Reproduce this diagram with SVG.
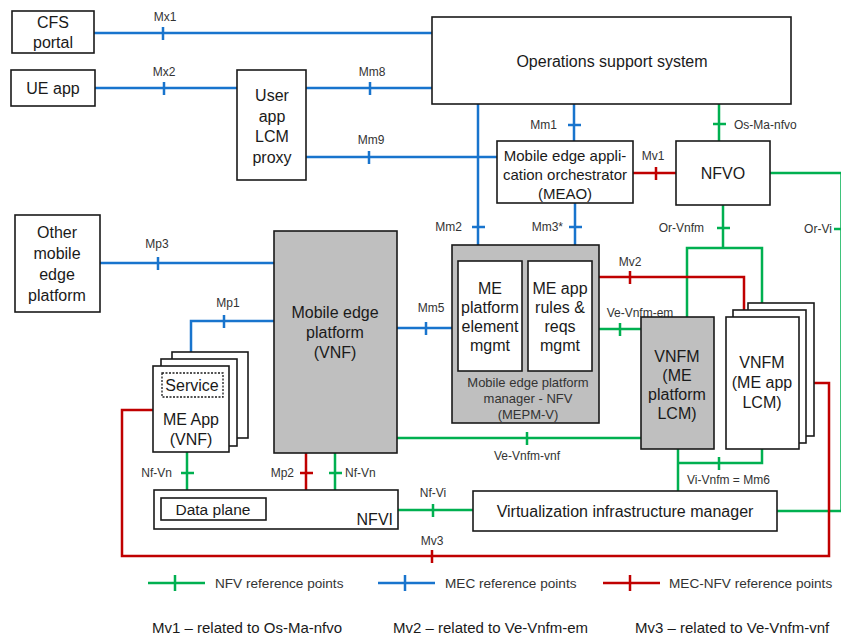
<svg xmlns="http://www.w3.org/2000/svg" width="841" height="637" viewBox="0 0 841 637">
<style>
.box{fill:#fff;stroke:#1a1a1a;stroke-width:1.6}
.gbox{fill:#bfbfbf;stroke:#1a1a1a;stroke-width:1.6}
.t{font-family:"Liberation Sans",Arial,sans-serif;font-size:16px;fill:#1a1a1a;text-anchor:middle}
.l{font-family:"Liberation Sans",Arial,sans-serif;font-size:12px;fill:#333}
.lg{font-family:"Liberation Sans",Arial,sans-serif;font-size:13.6px;fill:#333}
.ft{font-family:"Liberation Sans",Arial,sans-serif;font-size:15px;fill:#1a1a1a}
.b{fill:none;stroke:#1874cd;stroke-width:2.5}
.g{fill:none;stroke:#00b050;stroke-width:2.5}
.r{fill:none;stroke:#c00000;stroke-width:2.5}
</style>
<rect width="841" height="637" fill="#fff"/>
<g id="connectors">
  <!-- blue MEC -->
  <path class="b" d="M94 33H432 M163 27V40"/>
  <path class="b" d="M95 88H237 M164 82V95"/>
  <path class="b" d="M306 88H432 M370 82V95"/>
  <path class="b" d="M306 157H497 M369 151V164"/>
  <path class="b" d="M478 104V245 M472 227H485"/>
  <path class="b" d="M574 104V141 M568 125H581"/>
  <path class="b" d="M575 203V245 M569 227H582"/>
  <path class="b" d="M100 263H274 M158 257V270"/>
  <path class="b" d="M191 366V321H274 M224 315V328"/>
  <path class="b" d="M397 328H452 M426 322V335"/>
  <!-- green NFV -->
  <path class="g" d="M719 104V141 M713 124H726"/>
  <path class="g" d="M770 173H841.5V511 M834 229H841"/>
  <path class="g" d="M723 205V248 M717 228H730"/>
  <path class="g" d="M687 317V248H762V303"/>
  <path class="g" d="M599 329H641 M620 323V336"/>
  <path class="g" d="M397 438H641 M527 432V445"/>
  <path class="g" d="M678 449V491 M678 463H762V449 M719 457V470"/>
  <path class="g" d="M187 452V490 M181 473H194"/>
  <path class="g" d="M335 453V490 M329 473H342"/>
  <path class="g" d="M398 510H473 M433 504V517"/>
  <path class="g" d="M777 511H841"/>
  <!-- red MEC-NFV -->
  <path class="r" d="M633 173H676 M656 167V180"/>
  <path class="r" d="M599 277H744V310 M630 271V284"/>
  <path class="r" d="M306 453V509H266 M300 473H313"/>
  <path class="r" d="M799 383H829V556H122V410H153 M432 550V563"/>
</g>
<g id="labels">
  <text class="l" x="165" y="21" text-anchor="middle">Mx1</text>
  <text class="l" x="164" y="76" text-anchor="middle">Mx2</text>
  <text class="l" x="372" y="76" text-anchor="middle">Mm8</text>
  <text class="l" x="371" y="144" text-anchor="middle">Mm9</text>
  <text class="l" x="557" y="129" text-anchor="end">Mm1</text>
  <text class="l" x="653" y="160" text-anchor="middle">Mv1</text>
  <text class="l" x="734" y="129">Os-Ma-nfvo</text>
  <text class="l" x="462" y="231" text-anchor="end">Mm2</text>
  <text class="l" x="563" y="231" text-anchor="end">Mm3*</text>
  <text class="l" x="704" y="232" text-anchor="end">Or-Vnfm</text>
  <text class="l" x="818" y="233" text-anchor="middle">Or-Vi</text>
  <text class="l" x="157" y="248" text-anchor="middle">Mp3</text>
  <text class="l" x="228" y="307" text-anchor="middle">Mp1</text>
  <text class="l" x="630" y="266" text-anchor="middle">Mv2</text>
  <text class="l" x="640" y="317" text-anchor="middle">Ve-Vnfm-em</text>
  <text class="l" x="431" y="312" text-anchor="middle">Mm5</text>
  <text class="l" x="527" y="460" text-anchor="middle">Ve-Vnfm-vnf</text>
  <text class="l" x="172" y="477" text-anchor="end">Nf-Vn</text>
  <text class="l" x="294" y="477" text-anchor="end">Mp2</text>
  <text class="l" x="345" y="477">Nf-Vn</text>
  <text class="l" x="687" y="484">Vi-Vnfm = Mm6</text>
  <text class="l" x="433" y="497" text-anchor="middle">Nf-Vi</text>
  <text class="l" x="432" y="545" text-anchor="middle">Mv3</text>
</g>
<g id="cfs-portal">
  <rect class="box" x="12" y="11" width="82" height="42"/>
  <text class="t" x="53" y="28">CFS</text>
  <text class="t" x="53" y="48">portal</text>
</g>
<g id="ue-app">
  <rect class="box" x="11" y="70" width="84" height="36"/>
  <text class="t" x="53" y="94">UE app</text>
</g>
<g id="user-app-lcm-proxy">
  <rect class="box" x="237" y="70" width="69" height="110"/>
  <text class="t" x="272" y="101">User</text>
  <text class="t" x="272" y="122">app</text>
  <text class="t" x="272" y="142">LCM</text>
  <text class="t" x="272" y="163">proxy</text>
</g>
<g id="oss">
  <rect class="box" x="432" y="17" width="359" height="87"/>
  <text class="t" x="612" y="67">Operations support system</text>
</g>
<g id="meao">
  <rect class="box" x="497" y="141" width="136" height="62"/>
  <text class="t" x="565" y="161" style="font-size:15px">Mobile edge appli-</text>
  <text class="t" x="565" y="180" style="font-size:15px">cation orchestrator</text>
  <text class="t" x="565" y="199" style="font-size:15px">(MEAO)</text>
</g>
<g id="nfvo">
  <rect class="box" x="676" y="141" width="94" height="64"/>
  <text class="t" x="723" y="179">NFVO</text>
</g>
<g id="other-mep">
  <rect class="box" x="15" y="215" width="85" height="97"/>
  <text class="t" x="57" y="238">Other</text>
  <text class="t" x="57" y="259">mobile</text>
  <text class="t" x="57" y="280">edge</text>
  <text class="t" x="57" y="301">platform</text>
</g>
<g id="mep">
  <rect class="gbox" x="274" y="231" width="123" height="222"/>
  <text class="t" x="335" y="318">Mobile edge</text>
  <text class="t" x="335" y="338">platform</text>
  <text class="t" x="335" y="358">(VNF)</text>
</g>
<g id="mepm-v">
  <rect class="gbox" x="452" y="245" width="147" height="178"/>
  <rect class="box" x="458" y="261" width="64" height="110"/>
  <rect class="box" x="528" y="261" width="64" height="110"/>
  <text class="t" x="490" y="294">ME</text>
  <text class="t" x="490" y="313">platform</text>
  <text class="t" x="490" y="332">element</text>
  <text class="t" x="490" y="351">mgmt</text>
  <text class="t" x="560" y="294">ME app</text>
  <text class="t" x="560" y="313">rules &amp;</text>
  <text class="t" x="560" y="332">reqs</text>
  <text class="t" x="560" y="351">mgmt</text>
  <text class="t" x="528" y="387" style="font-size:13px;fill:#333">Mobile edge platform</text>
  <text class="t" x="528" y="403" style="font-size:13px;fill:#333">manager - NFV</text>
  <text class="t" x="528" y="419" style="font-size:13px;fill:#333">(MEPM-V)</text>
</g>
<g id="vnfm-mep">
  <rect class="gbox" x="641" y="317" width="73" height="132"/>
  <text class="t" x="677" y="362">VNFM</text>
  <text class="t" x="677" y="381">(ME</text>
  <text class="t" x="677" y="400">platform</text>
  <text class="t" x="677" y="419">LCM)</text>
</g>
<g id="vnfm-app">
  <rect class="box" x="748" y="303" width="66" height="133"/>
  <rect class="box" x="733" y="310" width="73" height="133"/>
  <rect class="box" x="726" y="317" width="73" height="132"/>
  <text class="t" x="762" y="368">VNFM</text>
  <text class="t" x="762" y="388">(ME app</text>
  <text class="t" x="762" y="408">LCM)</text>
</g>
<g id="me-app">
  <rect class="box" x="172" y="352" width="76" height="86"/>
  <rect class="box" x="161" y="359" width="76" height="87"/>
  <rect class="box" x="153" y="366" width="76" height="86"/>
  <rect x="162" y="373" width="61" height="24" fill="none" stroke="#1a1a1a" stroke-width="1.3" stroke-dasharray="2,1.5"/>
  <text class="t" x="192" y="391">Service</text>
  <text class="t" x="191" y="425">ME App</text>
  <text class="t" x="191" y="445">(VNF)</text>
</g>
<g id="nfvi">
  <rect class="box" x="154" y="490" width="244" height="39"/>
  <text class="t" x="393" y="525" style="text-anchor:end">NFVI</text>
</g>
<g id="data-plane">
  <rect class="box" x="161" y="498" width="105" height="22"/>
  <text class="t" x="213" y="515" style="font-size:15.5px">Data plane</text>
</g>
<g id="vim">
  <rect class="box" x="473" y="491" width="304" height="40"/>
  <text class="t" x="625" y="517">Virtualization infrastructure manager</text>
</g>
<g id="legend">
  <path class="g" d="M148 583H205 M175 575V591"/>
  <text class="lg" x="215" y="588">NFV reference points</text>
  <path class="b" d="M378 583H435 M405 575V591"/>
  <text class="lg" x="445" y="588">MEC reference points</text>
  <path class="r" d="M603 583H660 M630 575V591"/>
  <text class="lg" x="669" y="588">MEC-NFV reference points</text>
  <text class="ft" x="152" y="633">Mv1 – related to Os-Ma-nfvo</text>
  <text class="ft" x="393" y="633">Mv2 – related to Ve-Vnfm-em</text>
  <text class="ft" x="635" y="633">Mv3 – related to Ve-Vnfm-vnf</text>
</g>
</svg>
